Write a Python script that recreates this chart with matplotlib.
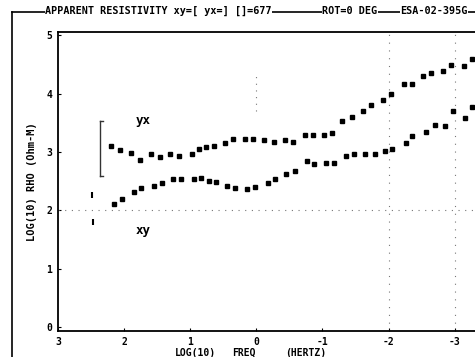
import matplotlib
matplotlib.use("Agg")
import matplotlib.pyplot as plt
from matplotlib.lines import Line2D

# log10 frequency (Hz) and log10 apparent resistivity
yx_freq = [2.20, 2.06, 1.89, 1.76, 1.59, 1.45, 1.30, 1.17, 0.98, 0.86, 0.76, 0.64,
           0.47, 0.35, 0.17, 0.05, -0.12, -0.27, -0.44, -0.56, -0.73, -0.85, -1.03,
           -1.15, -1.30, -1.44, -1.62, -1.74, -1.91, -2.03, -2.23, -2.35, -2.52,
           -2.65, -2.83, -2.95, -3.14, -3.26]
yx_rho = [3.11, 3.03, 2.99, 2.87, 2.96, 2.92, 2.96, 2.94, 2.97, 3.06, 3.08, 3.11,
          3.16, 3.22, 3.22, 3.23, 3.20, 3.18, 3.20, 3.18, 3.30, 3.29, 3.30, 3.33,
          3.53, 3.60, 3.70, 3.80, 3.89, 4.00, 4.16, 4.17, 4.30, 4.36, 4.39, 4.49,
          4.48, 4.60]

xy_freq = [2.15, 2.03, 1.85, 1.74, 1.55, 1.42, 1.26, 1.14, 0.95, 0.83, 0.71, 0.61,
           0.44, 0.32, 0.14, 0.02, -0.17, -0.29, -0.45, -0.59, -0.76, -0.88, -1.05,
           -1.18, -1.35, -1.48, -1.65, -1.79, -1.95, -2.06, -2.26, -2.36, -2.56,
           -2.70, -2.85, -2.97, -3.15, -3.27]
xy_rho = [2.11, 2.20, 2.32, 2.39, 2.41, 2.47, 2.54, 2.54, 2.54, 2.56, 2.51, 2.49,
          2.41, 2.39, 2.37, 2.40, 2.47, 2.54, 2.63, 2.68, 2.85, 2.80, 2.82, 2.82,
          2.94, 2.96, 2.96, 2.96, 3.01, 3.06, 3.15, 3.27, 3.34, 3.46, 3.44, 3.70,
          3.58, 3.77]

# error bar for first yx estimate and bracket marks at left
yx_bar_freq = 2.36
yx_bar_lo, yx_bar_hi = 2.59, 3.53
xy_brk_freq = [2.48, 2.47]
xy_brk_rho = [2.26, 1.80]

x_ticks = [3, 2, 1, 0, -1, -2, -3]
x_ticklabels = ["3", "2", "1", "0", "-1", "-2", "-3"]
y_ticks = [0, 1, 2, 3, 4, 5]
y_ticklabels = ["0", "1", "2", "3", "4", "5"]

title_left = "APPARENT RESISTIVITY xy=[ yx=] []=677"
title_mid = "ROT=0 DEG"
title_right = "ESA-02-395G"

W, H = 475, 357
fig = plt.figure(figsize=(W / 100, H / 100), dpi=100)
fig.patch.set_facecolor("white")

font = dict(family="DejaVu Sans Mono", fontweight="bold", color="black")

ax = fig.add_axes([58 / W, (H - 331) / H, (W - 58) / W + 0.01, (331 - 32) / H])
ax.set_xlim(2.97, -3.38)
ax.set_ylim(-0.07, 5.06)
ax.spines["right"].set_visible(False)
for s in ["left", "bottom", "top"]:
    ax.spines[s].set_linewidth(1.3)

ax.set_xticks(x_ticks)
ax.set_xticklabels(x_ticklabels, fontsize=7, **font)
ax.set_yticks(y_ticks)
ax.set_yticklabels(y_ticklabels, fontsize=7, **font)
ax.tick_params(direction="in", length=2, width=0.8, pad=4)

# dotted reference lines
ax.axhline(2, color="#777777", lw=0.8, ls=(0, (1, 5)))
ax.axvline(-2, color="#777777", lw=0.8, ls=(0, (1, 6)))
ax.axvline(-3, color="#777777", lw=0.8, ls=(0, (1, 6)))
ax.plot([0, 0], [3.7, 4.3], color="#777777", lw=0.8, ls=(0, (1, 5)))

ax.plot(yx_freq, yx_rho, ls="none", marker="s", ms=2.3, color="black")
ax.plot(xy_freq, xy_rho, ls="none", marker="s", ms=2.3, color="black")

ax.plot([yx_bar_freq, yx_bar_freq], [yx_bar_lo, yx_bar_hi], color="#333333", lw=1.0)
ax.plot([yx_bar_freq, yx_bar_freq - 0.04], [yx_bar_hi, yx_bar_hi], color="#333333", lw=1.0)
ax.plot([yx_bar_freq, yx_bar_freq - 0.04], [yx_bar_lo, yx_bar_lo], color="#333333", lw=1.0)
ax.plot(xy_brk_freq, xy_brk_rho, ls="none", marker="|", ms=5, mew=1.5, color="black")

ax.text(1.83, 3.48, "yx", fontsize=9, **font)
ax.text(1.83, 1.60, "xy", fontsize=9, **font)

ax.set_ylabel("LOG(10) RHO (Ohm-M)", fontsize=7.5, labelpad=7, **font)
xl_y = 1 - 356 / H
fig.text(175 / W, xl_y, "LOG(10)", fontsize=7, va="baseline", **font)
fig.text(232 / W, xl_y, "FREQ", fontsize=7, va="baseline", **font)
fig.text(285 / W, xl_y, "(HERTZ)", fontsize=7, va="baseline", **font)

# outer frame
fig.add_artist(Line2D([12 / W, 12 / W], [0, 1 - 12 / H], transform=fig.transFigure, color="black", lw=1.2))
fig.add_artist(Line2D([12 / W, 1], [1 - 12 / H, 1 - 12 / H], transform=fig.transFigure, color="black", lw=1.2))
bbox = dict(facecolor="white", edgecolor="none", pad=0.3)
tfs = 7.3
fig.text(45 / W, 1 - 11 / H, title_left, fontsize=tfs, va="center", bbox=bbox, **font)
fig.text(322 / W, 1 - 11 / H, title_mid, fontsize=tfs, va="center", bbox=bbox, **font)
fig.text(400 / W, 1 - 11 / H, title_right, fontsize=tfs, va="center", bbox=bbox, **font)

fig.savefig("out.png", dpi=100, facecolor="white")
